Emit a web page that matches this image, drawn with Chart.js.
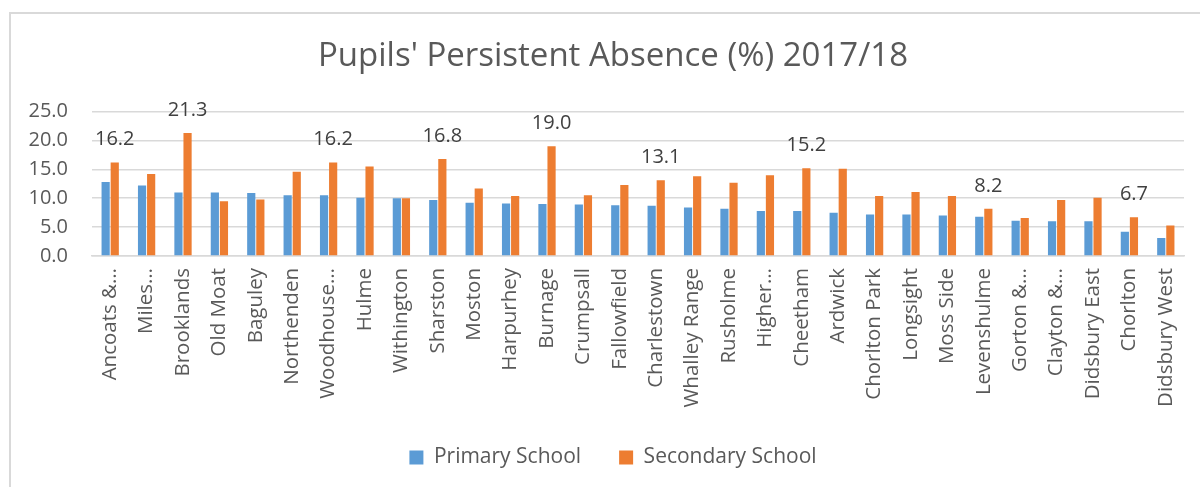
<!DOCTYPE html>
<html>
<head>
<meta charset="utf-8">
<script src="https://cdn.jsdelivr.net/npm/chart.js@4.4.1/dist/chart.umd.min.js"></script>
<style>
  html, body { margin: 0; padding: 0; background: #fff; overflow: hidden; }
  #wrap { position: relative; width: 1200px; height: 487px; overflow: hidden; }
  #frame { position: absolute; left: 9px; top: 12px; width: 1300px; height: 600px; border: 2px solid #d9d9d9; }
  #chart { position: absolute; left: 0; top: 0; }
</style>
</head>
<body>
<div id="wrap">
  <div id="frame"></div>
  <canvas id="chart" width="1200" height="487"></canvas>
</div>
<script>
// wards, in the order of the chart
const wards = ['Ancoats &…', 'Miles…', 'Brooklands', 'Old Moat', 'Baguley', 'Northenden',
  'Woodhouse…', 'Hulme', 'Withington', 'Sharston', 'Moston', 'Harpurhey', 'Burnage',
  'Crumpsall', 'Fallowfield', 'Charlestown', 'Whalley Range', 'Rusholme', 'Higher…',
  'Cheetham', 'Ardwick', 'Chorlton Park', 'Longsight', 'Moss Side', 'Levenshulme',
  'Gorton &…', 'Clayton &…', 'Didsbury East', 'Chorlton', 'Didsbury West'];

const primarySchool = [12.8, 12.2, 11.0, 11.0, 10.9, 10.5, 10.5, 10.1, 10.0, 9.7, 9.2, 9.1, 9.0,
  8.9, 8.8, 8.7, 8.4, 8.2, 7.8, 7.8, 7.5, 7.2, 7.2, 7.0, 6.8, 6.1, 6.0, 6.0, 4.2, 3.1];

const secondarySchool = [16.2, 14.2, 21.3, 9.5, 9.8, 14.6, 16.2, 15.5, 10.0, 16.8, 11.7, 10.4, 19.0,
  10.5, 12.3, 13.1, 13.8, 12.7, 14.0, 15.2, 15.1, 10.4, 11.1, 10.4, 8.2, 6.6, 9.7, 10.1, 6.7, 5.3];

// only these secondary bars carry a value label
const labelledWards = [0, 2, 6, 9, 12, 15, 19, 24, 28];

const yTicks = [0, 5, 10, 15, 20, 25];

const textGrey = '#595959';
const fontFamily = '"Open Sans", "Noto Sans", sans-serif';

// value labels above the chosen orange bars
const valueLabels = {
  id: 'valueLabels',
  afterDatasetsDraw(chart) {
    const meta = chart.getDatasetMeta(1);
    const ctx = chart.ctx;
    ctx.save();
    ctx.font = '20px ' + fontFamily;
    ctx.fillStyle = '#404040';
    ctx.textAlign = 'center';
    ctx.textBaseline = 'alphabetic';
    labelledWards.forEach(i => {
      const bar = meta.data[i];
      ctx.fillText(secondarySchool[i].toFixed(1), bar.x, bar.y - 17);
    });
    ctx.restore();
  }
};

// legend box taller than chart.js makes it, and y labels not clipped
const layoutTweaks = {
  id: 'layoutTweaks',
  afterInit(chart) {
    const lg = chart.legend;
    if (!lg) return;
    const fit = lg.fit;
    lg.fit = function () {
      fit.call(this);
      this.height = 78;
    };
  },
  afterLayout(chart) {
    chart.scales.y.left = 10;
  }
};

const chart = new Chart(document.getElementById('chart'), {
  type: 'bar',
  data: {
    labels: wards,
    datasets: [
      { label: 'Primary School', data: primarySchool, backgroundColor: '#5B9BD5' },
      { label: 'Secondary School', data: secondarySchool, backgroundColor: '#ED7D31' }
    ]
  },
  options: {
    responsive: false,
    animation: false,
    devicePixelRatio: 1,
    categoryPercentage: 0.5,
    barPercentage: 0.9,
    layout: { padding: { left: 42, right: 16, top: 0, bottom: 0 } },
    plugins: {
      title: {
        display: true,
        text: "Pupils' Persistent Absence (%) 2017/18",
        color: textGrey,
        font: { family: fontFamily, size: 33, weight: 'normal' },
        padding: { top: 37, bottom: 35 }
      },
      legend: {
        position: 'bottom',
        labels: {
          color: textGrey,
          font: { family: fontFamily, size: 21 },
          boxWidth: 14,
          boxHeight: 14,
          padding: 38
        }
      },
      tooltip: { enabled: false }
    },
    scales: {
      x: {
        grid: { display: false, drawTicks: false },
        border: { display: true, color: '#d9d9d9', width: 1.5 },
        ticks: {
          color: textGrey,
          font: { family: fontFamily, size: 20.5 },
          autoSkip: false,
          minRotation: 90,
          maxRotation: 90,
          padding: 12
        },
        afterFit(scale) {
          scale.height = 153;
          scale.paddingLeft = 0;
          scale.paddingRight = 0;
        }
      },
      y: {
        min: 0,
        max: 25,
        afterBuildTicks(scale) {
          scale.ticks = yTicks.map(v => ({ value: v }));
        },
        grid: { color: '#d9d9d9', lineWidth: 1.5, drawTicks: false },
        border: { display: false },
        ticks: {
          color: textGrey,
          font: { family: fontFamily, size: 20 },
          padding: 24,
          callback: v => v.toFixed(1)
        },
        afterFit(scale) {
          scale.width = 50;
        }
      }
    }
  },
  plugins: [valueLabels, layoutTweaks]
});
</script>
</body>
</html>
